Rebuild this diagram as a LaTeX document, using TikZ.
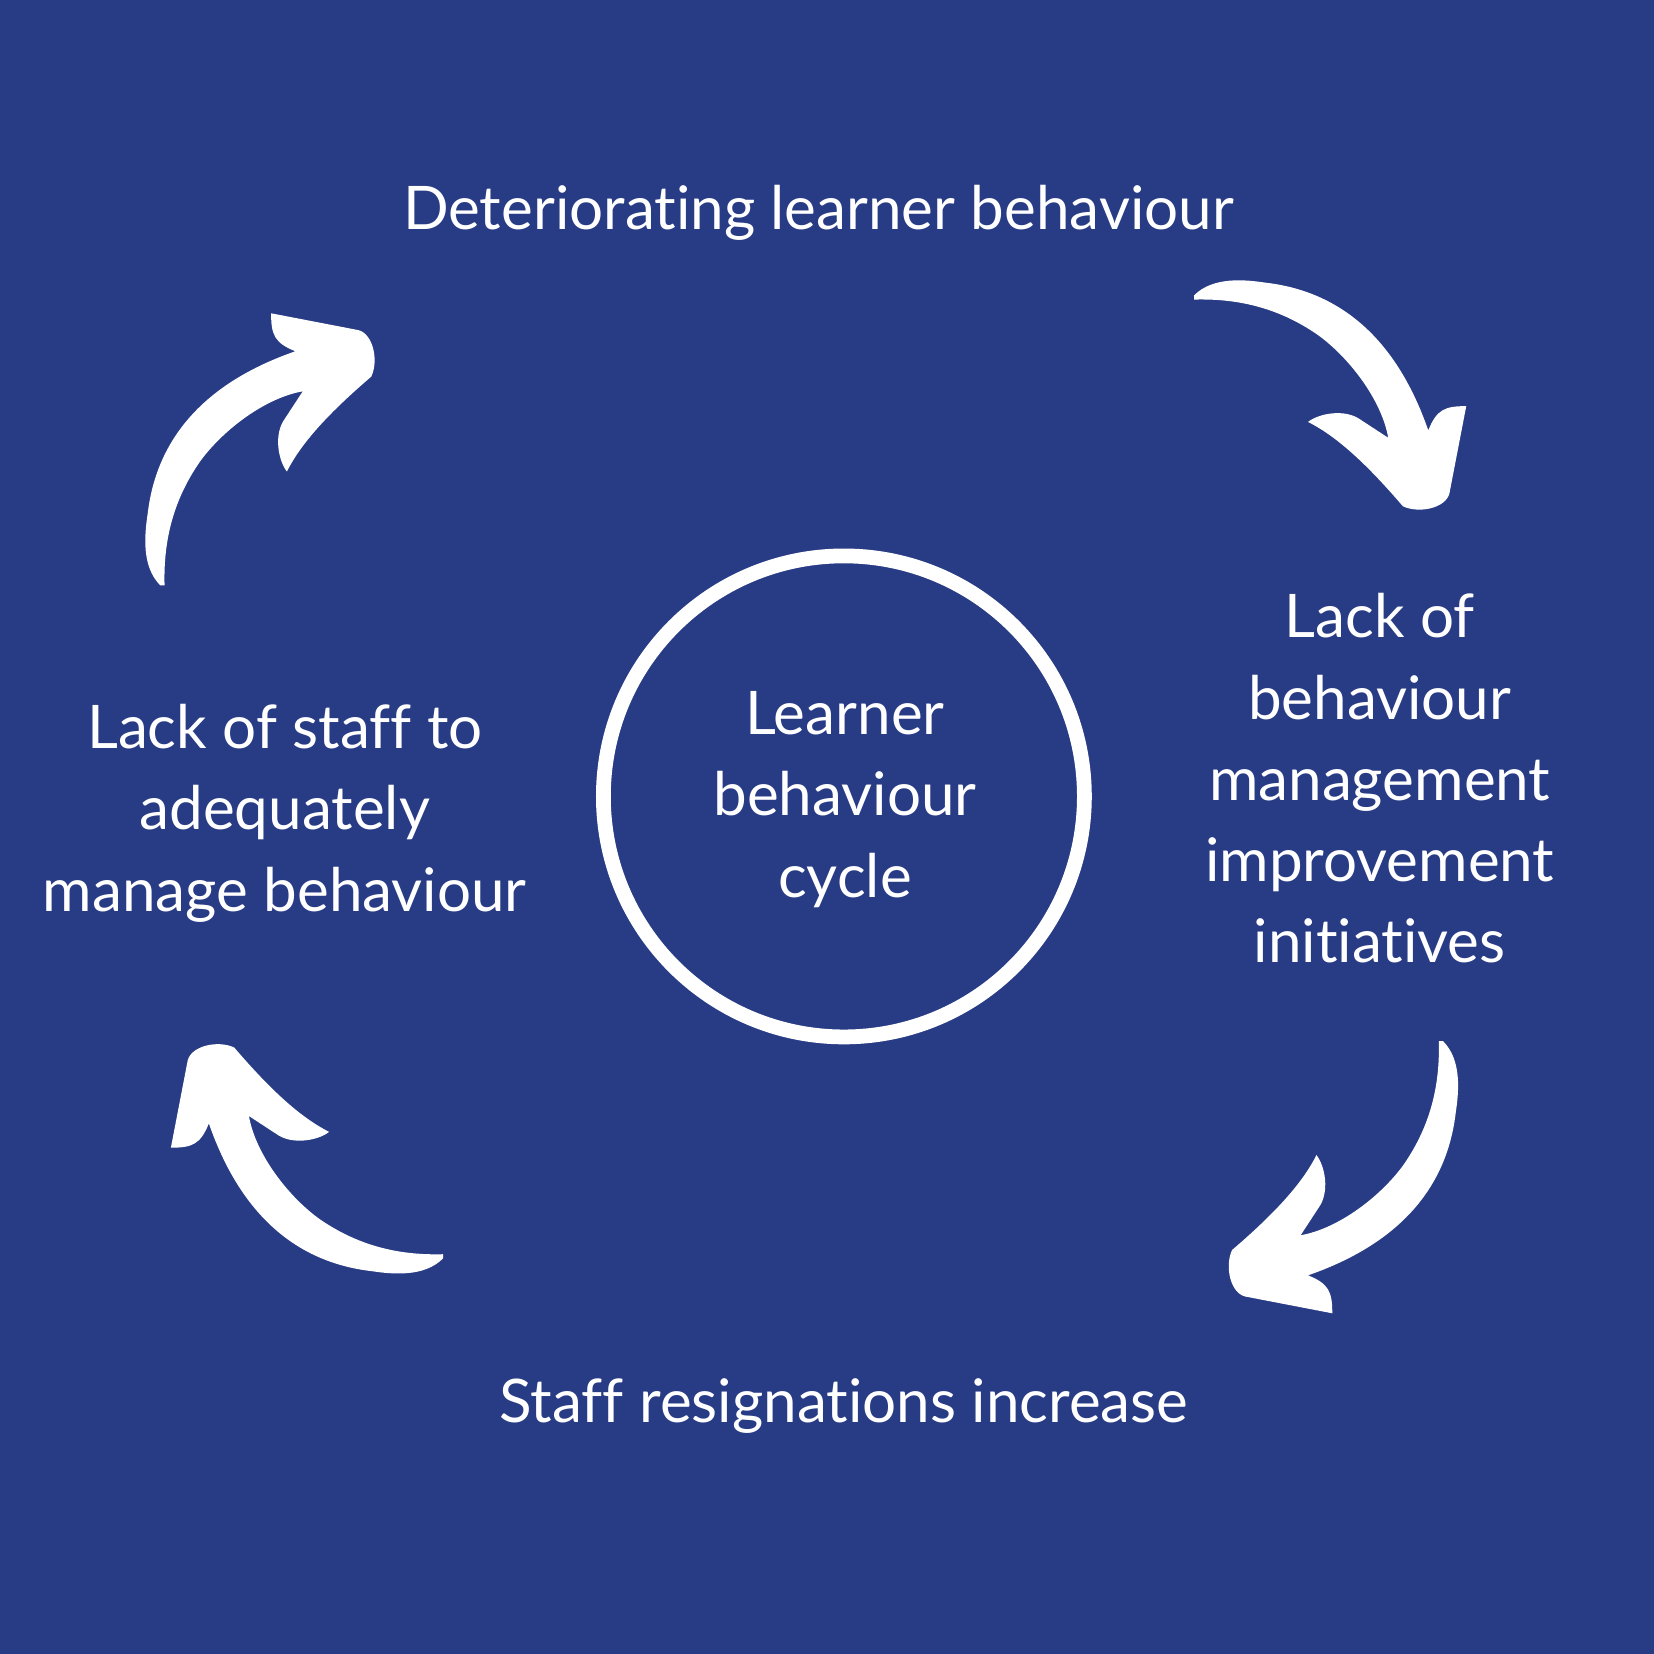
\documentclass[tikz,border=0pt]{standalone}
\usepackage{fontspec}
\setmainfont{Lato}[Ligatures={NoCommon}]
\definecolor{bg}{HTML}{283B85}
\newcommand\myarrow{\fill[white] (1132,280) .. controls (1150,262) and (1180,265) .. (1200,268)
      .. controls (1260,275) and (1320,310) .. (1354,408)
      .. controls (1362,388) and (1370,385) .. (1390,385)
      -- (1374,468) .. controls (1370,482) and (1345,487) .. (1330,480)
      .. controls (1300,445) and (1270,415) .. (1240,400)
      .. controls (1250,392) and (1275,387) .. (1290,398)
      -- (1316,415) .. controls (1310,380) and (1280,340) .. (1250,318)
      .. controls (1210,290) and (1170,283) .. (1132,284) -- cycle;}
\begin{document}
\begin{tikzpicture}[x=1pt,y=-1pt,
  lbl/.style={text=white,font=\fontsize{57}{77}\selectfont,align=center,inner sep=0}]
\useasboundingbox (0,0) rectangle (1568,1568);
\fill[bg] (0,0) rectangle (1568,1568);
\myarrow
\begin{scope}[shift={(250,425)},rotate=90,shift={(-1262,-378)}]\myarrow\end{scope}
\begin{scope}[shift={(1270,1117)},rotate=-90,shift={(-1262,-378)}]\myarrow\end{scope}
\begin{scope}[shift={(290,1095)},rotate=180,shift={(-1262,-378)}]\myarrow\end{scope}
\node[circle,draw=white,line width=14pt,minimum size=456pt] (c) at (800,755) {};
\node[lbl] (t) at (776,202) {Deteriorating learner behaviour};
\node[lbl] (r) at (1308,738) {Lack of\\behaviour\\management\\improvement\\initiatives};
\node[lbl] (l) at (270,771) {Lack of staff to\\adequately\\manage behaviour};
\node[lbl] (m) at (801,758) {Learner\\behaviour\\cycle};
\node[lbl] (b) at (800,1333) {Staff resignations increase};
\end{tikzpicture}
\end{document}
